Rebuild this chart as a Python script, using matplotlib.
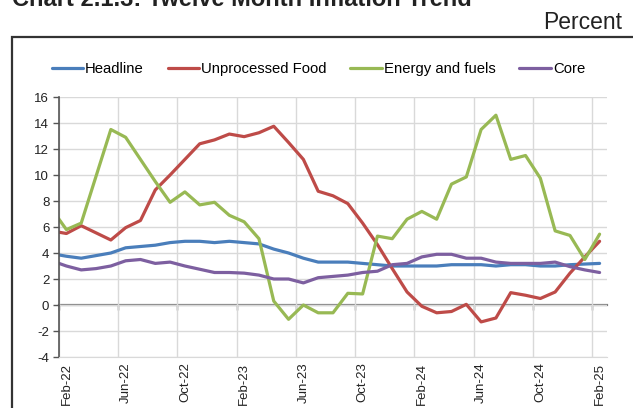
import matplotlib.pyplot as plt
import matplotlib.patches as patches
import numpy as np

plt.rcParams['font.family'] = ['Liberation Sans', 'DejaVu Sans']
plt.rcParams['axes.unicode_minus'] = False

# monthly, Feb-22 .. Feb-25 (first value = Jan-22, only partly visible at left edge)
headline = [3.95, 3.75, 3.6, 3.8, 4.0, 4.4, 4.5, 4.6, 4.8, 4.9, 4.9, 4.8, 4.9, 4.8,
            4.7, 4.3, 4.0, 3.6, 3.3, 3.3, 3.3, 3.2, 3.1, 3.0, 3.0, 3.0, 3.0, 3.1,
            3.1, 3.1, 3.0, 3.1, 3.1, 3.0, 3.0, 3.1, 3.15, 3.2]
unprocessed_food = [5.7, 5.5, 6.1, 5.55, 5.0, 5.95, 6.5, 8.85, 10.0, 11.2, 12.4, 12.7,
                    13.15, 12.95, 13.25, 13.75, 12.5, 11.2, 8.75, 8.4, 7.8, 6.3, 4.65,
                    2.8, 1.0, -0.1, -0.6, -0.5, 0.05, -1.3, -1.0, 0.95, 0.75, 0.5,
                    1.0, 2.45, 3.7, 4.9]
energy_fuels = [7.4, 5.8, 6.3, 9.9, 13.5, 12.9, 11.2, 9.5, 7.9, 8.7, 7.7, 7.9, 6.9,
                6.4, 5.1, 0.3, -1.1, 0.0, -0.6, -0.6, 0.9, 0.85, 5.3, 5.1, 6.6, 7.2,
                6.6, 9.3, 9.85, 13.5, 14.6, 11.2, 11.5, 9.75, 5.7, 5.35, 3.5, 5.45]
core = [3.4, 3.0, 2.7, 2.8, 3.0, 3.4, 3.5, 3.2, 3.3, 3.0, 2.75, 2.5, 2.5, 2.45, 2.3,
        2.0, 2.0, 1.7, 2.1, 2.2, 2.3, 2.5, 2.6, 3.1, 3.2, 3.7, 3.9, 3.9, 3.6, 3.6,
        3.3, 3.2, 3.2, 3.2, 3.3, 2.95, 2.7, 2.5]

tick_labels = ['Feb-22', 'Jun-22', 'Oct-22', 'Feb-23', 'Jun-23', 'Oct-23',
               'Feb-24', 'Jun-24', 'Oct-24', 'Feb-25']

series = [('Headline', headline, '#4a7ebb'),
          ('Unprocessed Food', unprocessed_food, '#be4b48'),
          ('Energy and fuels', energy_fuels, '#98b954'),
          ('Core', core, '#7d5fa0')]

fig = plt.figure(figsize=(6.33, 4.08), dpi=100)
ax = fig.add_axes([59/633, 1 - 357/408, (607 - 59)/633, (357 - 97)/408])

x = np.arange(len(headline)) - 1   # Feb-22 -> 0
for name, vals, col in series:
    ax.plot(x, vals, color=col, lw=2.3, label=name, solid_capstyle='round')

n_cat = len(headline) - 1
ax.set_xlim(-0.5, n_cat - 0.5)
ax.set_ylim(-4, 16)
ax.set_yticks(range(-4, 17, 2))

# boundaries every 4 months (tick marks + vertical grid), labels at category centres
bounds = np.arange(-0.5, n_cat - 0.5, 4)
ax.set_xticks(bounds)
ax.set_xticklabels([])
ax.set_xticks(np.arange(0, n_cat, 4), minor=True)
ax.set_xticklabels(tick_labels, minor=True, rotation=90, fontsize=9.5, color='#222222')
ax.tick_params(axis='x', which='both', length=0, pad=4)
ax.tick_params(axis='y', direction='out', length=4, width=1, color='#555555',
               labelsize=9.5, labelcolor='#222222', pad=3)
ax.grid(True, which='major', color='#d9d9d9', lw=1)
ax.set_axisbelow(True)

for s in ['top', 'right']:
    ax.spines[s].set_visible(False)
ax.spines['bottom'].set_color('#d9d9d9')
ax.spines['left'].set_color('#555555')
ax.spines['left'].set_linewidth(1.2)

# zero axis line with tick marks
sec = ax.secondary_xaxis(0.2)
sec.set_xticks(bounds)
sec.tick_params(axis='x', direction='out', length=3.5, width=1, color='#555555',
                labelbottom=False, labeltop=False, top=False, bottom=True)
sec.spines['bottom'].set_color('#808080')
sec.spines['bottom'].set_linewidth(1.6)
sec.spines['top'].set_visible(False)

fig.legend(loc='center', bbox_to_anchor=(0.503, 1 - 69/408), ncol=4, frameon=False,
           fontsize=10.7, handlelength=2.1, handletextpad=0.15, columnspacing=1.6)

# title is cut off at the top edge in the original
fig.text(12/633, 1 - 6/408, 'Chart 2.1.3: Twelve Month Inflation Trend',
         fontsize=17, fontweight='bold', va='baseline', ha='left', color='#222222')
fig.text(622/633, 1 - 29/408, 'Percent', fontsize=16.5, va='baseline', ha='right',
         color='#222222')

box = patches.Rectangle((12/633, -0.05), 1.0, 1.05 - 37/408, transform=fig.transFigure,
                        fill=False, edgecolor='#333333', lw=1.6, clip_on=False)
fig.patches.append(box)

fig.savefig('out.png', dpi=100)
